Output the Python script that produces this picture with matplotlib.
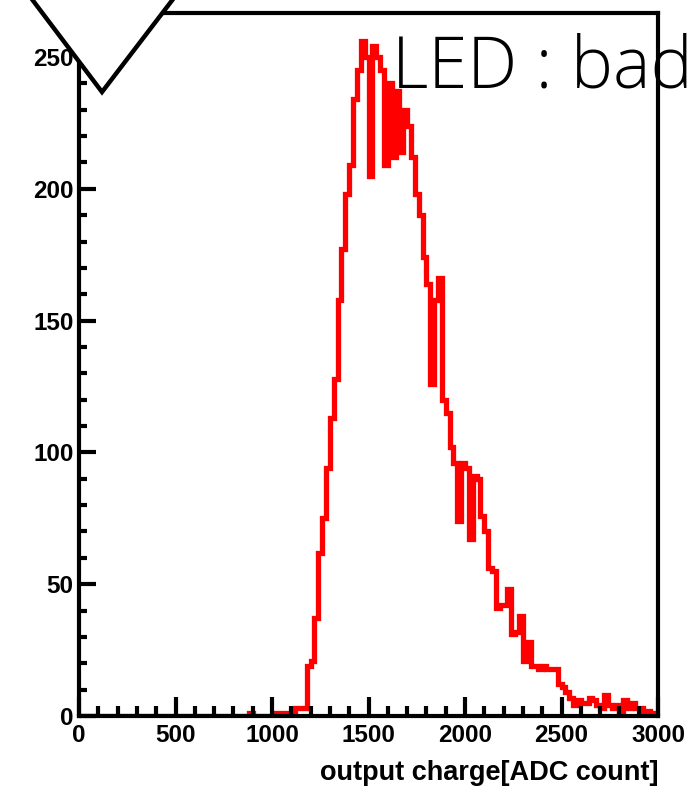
import matplotlib
matplotlib.use('Agg')
import matplotlib.pyplot as plt
from matplotlib.patches import Polygon
from matplotlib.ticker import MultipleLocator
import numpy as np

# histogram range and per-bin counts (20 ADC wide bins)
x_lo = 0
x_hi = 3000
counts = [0] * 44 + [1, 0, 0, 0, 0, 0, 0, 1, 1, 1, 0, 1, 3, 3, 3] + [
    19, 21, 37, 62, 75, 94, 113, 128, 158, 177,
    198, 209, 234, 245, 256, 250, 205, 254, 250, 245,
    209, 240, 212, 237, 214, 230, 224, 212, 198, 190,
    174, 164, 126, 158, 166, 120, 115, 102, 96, 74,
    96, 94, 67, 91, 90, 76, 70, 56, 55, 41,
    42, 42, 48, 31, 32, 38, 21, 28, 19, 19,
    18, 19, 18, 18, 18, 12, 11, 9, 7, 4,
    6, 5, 5, 7, 6, 4, 3, 8, 4, 3,
    4, 2, 6, 3, 5, 3, 3, 2, 2, 1, 1]
x_ticks = [0, 500, 1000, 1500, 2000, 2500, 3000]
y_ticks = [0, 50, 100, 150, 200, 250]
x_title = 'output charge[ADC count]'
note = 'LED : bad'

edges = np.linspace(x_lo, x_hi, len(counts) + 1)

W, H = 695, 787
fig = plt.figure(figsize=(W / 100, H / 100), dpi=100)
ax = fig.add_axes([79 / W, 1 - 716 / H, (658 - 79) / W, (716 - 13) / H])

ax.stairs(counts, edges, color='red', linewidth=3.8, zorder=1.5)
ax.set_xlim(x_lo, x_hi)
ax.set_ylim(0, 266.7)
ax.set_axisbelow(False)

for s in ax.spines.values():
    s.set_linewidth(3)

lab_font = dict(family=['Liberation Sans', 'DejaVu Sans'], weight='bold', size=17.5)
ax.set_xticks(x_ticks)
ax.set_yticks(y_ticks)
ax.set_xticklabels([str(v) for v in x_ticks], fontdict=lab_font)
ax.set_yticklabels([str(v) for v in y_ticks], fontdict=lab_font)
ax.xaxis.set_minor_locator(MultipleLocator(100))
ax.yaxis.set_minor_locator(MultipleLocator(10))
ax.tick_params(which='both', direction='in', width=3, top=False, right=False)
ax.tick_params(axis='x', which='major', length=14, pad=6)
ax.tick_params(axis='x', which='minor', length=7)
ax.tick_params(axis='y', which='major', length=12, pad=4)
ax.tick_params(axis='y', which='minor', length=6)

ax.set_xlabel(x_title, loc='right', labelpad=9,
              fontdict=dict(family=['Liberation Sans', 'DejaVu Sans'],
                            weight='bold', size=19.5))

# white triangle marker covering the top-left corner
tri = Polygon([(25 / W, 1 + 10 / H), (102 / W, 1 - 92 / H), (180 / W, 1 + 10 / H)],
              closed=True, transform=fig.transFigure, facecolor='white',
              edgecolor='black', linewidth=3.2, zorder=10, clip_on=False)
fig.add_artist(tri)

fig.text(392 / W, 1 - 88 / H, note, fontsize=51, va='baseline', ha='left',
         family=['Open Sans', 'DejaVu Sans'], weight='light', zorder=11)

fig.savefig('out.png', dpi=100, facecolor='white')
